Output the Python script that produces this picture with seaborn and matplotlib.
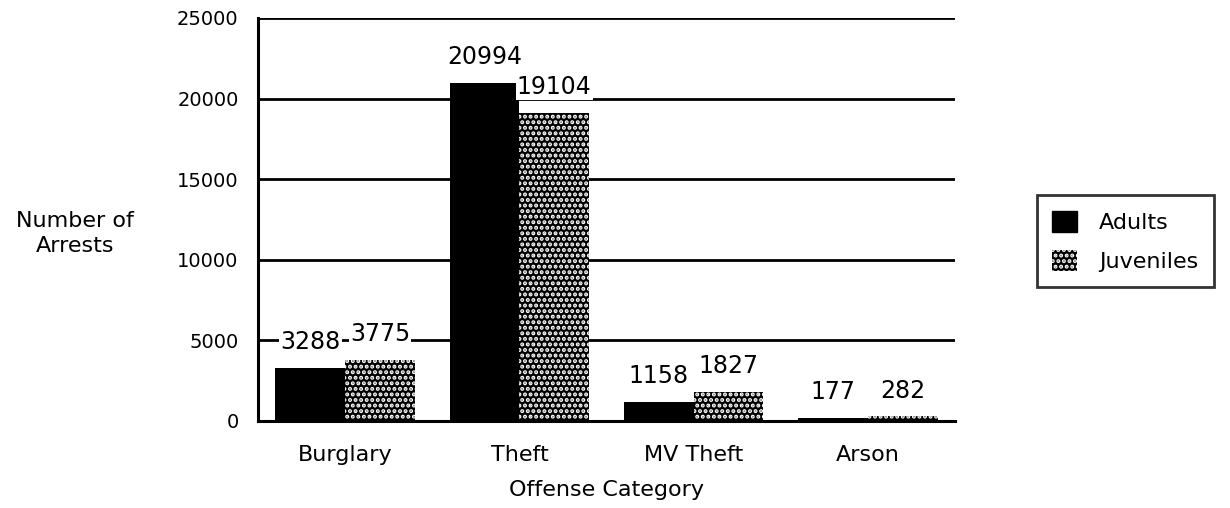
import numpy as np
import pandas as pd
import matplotlib
matplotlib.use("Agg")
import matplotlib.pyplot as plt
import seaborn as sns
from matplotlib.patches import Patch

# data
categories = ["Burglary", "Theft", "MV Theft", "Arson"]
adults = [3288, 20994, 1158, 177]
juveniles = [3775, 19104, 1827, 282]
series = ["Adults", "Juveniles"]
y_ticks = [0, 5000, 10000, 15000, 20000, 25000]

df = pd.DataFrame({
    "Offense Category": categories * 2,
    "Arrests": adults + juveniles,
    "Group": [series[0]] * len(categories) + [series[1]] * len(categories),
})

sns.set_theme(style="white")
plt.rcParams["font.family"] = ["DejaVu Sans"]
plt.rcParams["hatch.linewidth"] = 2.0
for k in ["text.color", "axes.labelcolor", "xtick.color", "ytick.color"]:
    plt.rcParams[k] = "black"

fig = plt.figure(figsize=(12.3, 5.08), dpi=100)
ax = fig.add_axes([0.2098, 0.1713, 0.5667, 0.7933])

sns.barplot(data=df, x="Offense Category", y="Arrests", hue="Group",
            palette=["black", "black"], width=0.8, ax=ax, legend=False,
            saturation=1, zorder=3)

# juvenile bars get the dotted fill
for p in ax.containers[1]:
    p.set_hatch("...")
    p.set_edgecolor("white")
    p.set_linewidth(0)
for p in ax.containers[0]:
    p.set_linewidth(0)

# value labels with white box so gridlines break around them
for cont, vals in zip(ax.containers, [adults, juveniles]):
    for p, v in zip(cont, vals):
        ax.annotate(str(v), (p.get_x() + p.get_width() / 2, p.get_height()),
                    xytext=(0, 10), textcoords="offset points",
                    ha="center", va="bottom", fontsize=17, zorder=4,
                    bbox=dict(boxstyle="square,pad=0.05", fc="white", ec="none"))

ax.set_xlim(-0.5, 3.5)
ax.set_ylim(0, 25000)
ax.set_yticks(y_ticks)
ax.set_yticklabels([str(t) for t in y_ticks], fontsize=14)
for t in y_ticks[1:]:
    ax.axhline(t, color="black", lw=2, zorder=1)

ax.set_xticks(range(len(categories)))
ax.set_xticklabels(categories, fontsize=16)
ax.set_xticks(np.arange(-0.5, len(categories)), minor=True)
ax.tick_params(axis="x", which="major", length=0, pad=17)
ax.tick_params(axis="x", which="minor", length=14, width=2, direction="inout", color="black")
ax.tick_params(axis="y", length=12, width=2, direction="inout", color="black", pad=8)

for s in ["top", "right"]:
    ax.spines[s].set_visible(False)
for s in ["left", "bottom"]:
    ax.spines[s].set_color("black")
    ax.spines[s].set_linewidth(2.2)
    ax.spines[s].set_zorder(5)

ax.set_xlabel("Offense Category", fontsize=16, labelpad=11)
ax.set_ylabel("")
fig.text(0.061, 0.54, "Number of\nArrests", ha="center", va="center",
         fontsize=16, linespacing=1.35)

handles = [Patch(facecolor="black", edgecolor="black"),
           Patch(facecolor="black", edgecolor="white", hatch="...", linewidth=0)]
leg = fig.legend(handles, series, loc="center", bbox_to_anchor=(0.915, 0.525),
                 fontsize=16, frameon=True, fancybox=False, handlelength=1.1,
                 handleheight=1.1, handletextpad=1.0, borderpad=0.7, labelspacing=0.75)
leg.get_frame().set_edgecolor("black")
leg.get_frame().set_linewidth(2)

fig.savefig("out.png", dpi=100, facecolor="white")
